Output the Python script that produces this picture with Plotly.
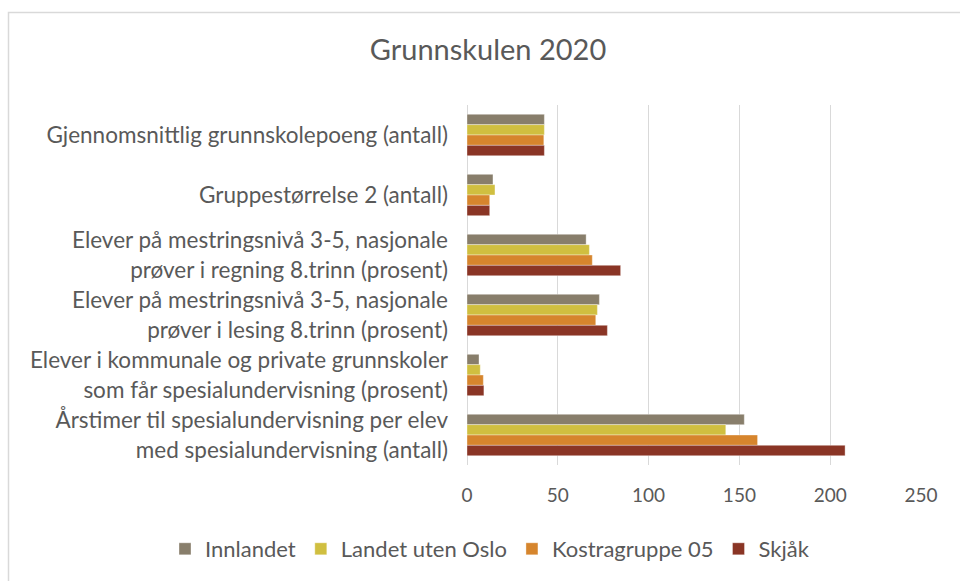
import plotly.graph_objects as go

categories = [
    "Gjennomsnittlig grunnskolepoeng (antall)",
    "Gruppestørrelse 2 (antall)",
    "Elever på mestringsnivå 3-5, nasjonale<br>prøver i regning 8.trinn (prosent)",
    "Elever på mestringsnivå 3-5, nasjonale<br>prøver i lesing 8.trinn (prosent)",
    "Elever i kommunale og private grunnskoler<br>som får spesialundervisning (prosent)",
    "Årstimer til spesialundervisning per elev<br>med spesialundervisning (antall)",
]
series_names = ["Innlandet", "Landet uten Oslo", "Kostragruppe 05", "Skjåk"]
innlandet = [42.6, 14.3, 65.6, 72.9, 6.6, 152.7]
landet_uten_oslo = [42.6, 15.4, 67.4, 71.8, 7.3, 142.5]
kostragruppe_05 = [42.3, 12.5, 69.0, 70.9, 9.0, 160.0]
skjaak = [42.6, 12.5, 84.6, 77.3, 9.3, 208.2]
x_ticks = [0, 50, 100, 150, 200, 250]

values = [innlandet, landet_uten_oslo, kostragruppe_05, skjaak]
colors = ["#887E6B", "#D0BF40", "#D6852D", "#8A3525"]

W, H = 960, 581
L, R, T, B = 467, 39, 105, 116
FONT = "Lato"
TXT = "#595959"

fig = go.Figure()
for name, vals, col in zip(series_names, values, colors):
    fig.add_trace(go.Bar(
        y=categories, x=vals, name=name, orientation="h",
        marker=dict(color=col, line=dict(color="rgba(255,255,255,0.6)", width=0.6)),
    ))

pw = W - L - R
ph = H - T - B
def px_x(p):
    return (p - L) / pw
def px_y(p):
    return (H - B - p) / ph

fig.update_layout(
    width=W, height=H,
    margin=dict(l=L, r=R, t=T, b=B, autoexpand=False),
    paper_bgcolor="white", plot_bgcolor="white",
    barmode="group", bargap=0.31, bargroupgap=0,
    font=dict(family=FONT, color=TXT, size=22),
    title=dict(text="Grunnskulen 2020", x=488 / W, xanchor="center",
               y=1 - 50 / H, yanchor="middle",
               font=dict(family=FONT, size=29, color=TXT)),
    xaxis=dict(range=[0, 250], tickvals=x_ticks, showgrid=True,
               gridcolor="#D9D9D9", gridwidth=1, zeroline=True,
               zerolinecolor="#D9D9D9", zerolinewidth=1, showline=False,
               tickfont=dict(size=19, color=TXT), ticks="", ticklabelstandoff=17,
               automargin=False),
    yaxis=dict(autorange="reversed", showgrid=False, showline=False,
               ticks="", tickfont=dict(size=22.5, color=TXT), ticklabelstandoff=18,
               automargin=False),
    legend=dict(orientation="h", x=px_x(165), xanchor="left",
                y=px_y(549), yanchor="middle",
                font=dict(size=22, color=TXT), itemwidth=30,
                traceorder="normal"),
    shapes=[dict(type="rect", xref="paper", yref="paper",
                 x0=px_x(8.5), x1=px_x(980), y0=px_y(600), y1=px_y(12.5),
                 line=dict(color="#D9D9D9", width=1.5), layer="below")],
)

fig.write_html("out.html", config={"displayModeBar": False},
               post_script="document.body.style.margin='0';")
